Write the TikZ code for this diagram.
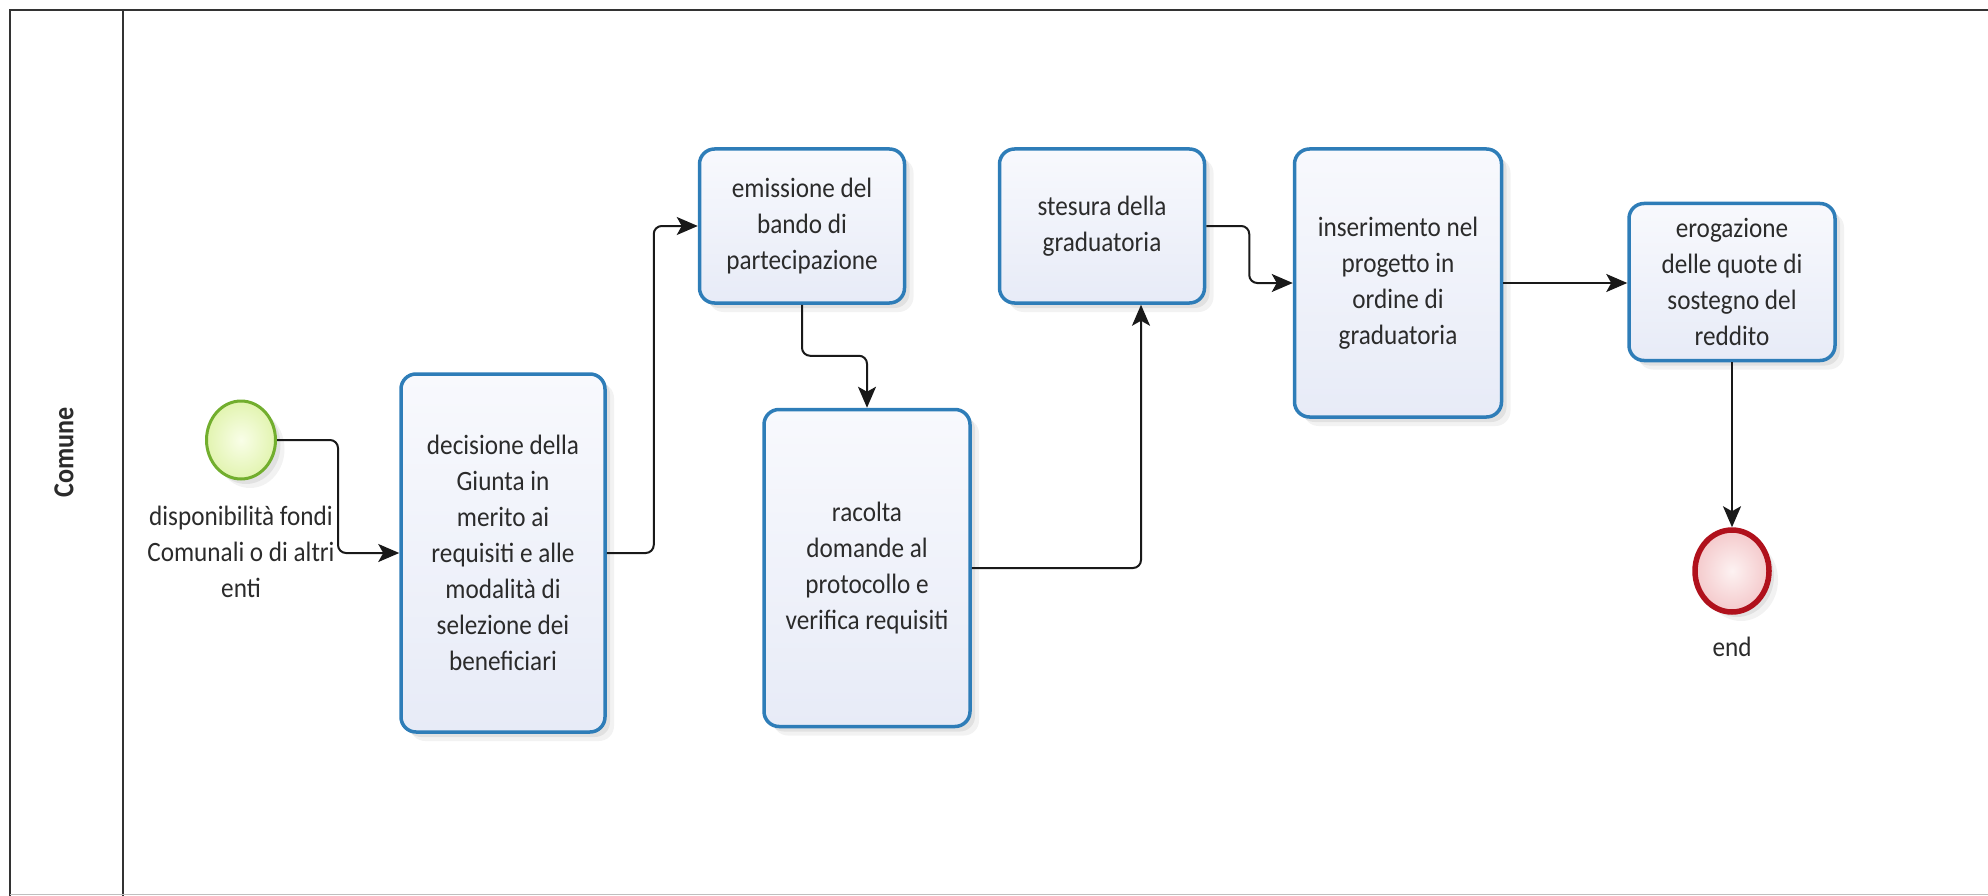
\documentclass[tikz,border=0pt]{standalone}
\usepackage{fontspec}
\setmainfont{Carlito}[FakeStretch=0.9]
\usetikzlibrary{shapes.geometric,arrows.meta,shadows}
\definecolor{boxborder}{HTML}{2E7DB8}
\definecolor{boxtop}{HTML}{F8F9FD}
\definecolor{boxbot}{HTML}{E7EBF7}
\definecolor{txt}{HTML}{2B2B2B}
\definecolor{startborder}{HTML}{72AE2E}
\definecolor{startin}{HTML}{F9FEE8}
\definecolor{startout}{HTML}{E2F4B0}
\definecolor{endborder}{HTML}{B0111C}
\definecolor{endin}{HTML}{FDF2F2}
\definecolor{endout}{HTML}{F4C9CB}
\definecolor{frame}{HTML}{333333}
\tikzset{
  softshadow/.style={
    drop shadow={shadow xshift=9pt,shadow yshift=-9pt,opacity=0.05,fill=black},
    drop shadow={shadow xshift=5pt,shadow yshift=-5pt,opacity=0.07,fill=black}},
  taskbox/.style={rectangle, rounded corners=15pt, draw=boxborder, line width=3.5pt,
    top color=boxtop, bottom color=boxbot, softshadow,
    align=center, text=txt, inner sep=4pt,
    font=\fontsize{28}{36}\selectfont},
  startev/.style={ellipse, draw=startborder, line width=3pt, inner color=startin,
    outer color=startout, minimum width=69pt, minimum height=78pt, inner sep=0pt, softshadow},
  endev/.style={ellipse, draw=endborder, line width=5.5pt, inner color=endin,
    outer color=endout, minimum width=74pt, minimum height=82pt, inner sep=0pt, softshadow},
  evlabel/.style={align=center, text=txt, font=\fontsize{28}{36}\selectfont},
  flow/.style={draw=black!90, line width=2pt, rounded corners=8pt,
    -{Stealth[length=21pt,width=18pt,inset=5pt]}},
  lanetitle/.style={rotate=90, text=txt, font=\bfseries\fontsize{29}{32}\selectfont},
  frameline/.style={draw=frame, line width=2.5pt}
}
\begin{document}
\begin{tikzpicture}[x=1pt,y=-1pt]
\useasboundingbox (0,0) rectangle (1988,896);
% pool frame
\draw[frameline] (10,896) -- (10,10) -- (1988,10);
\draw[frameline] (123,10) -- (123,896);
\draw[draw=black!25, line width=1.5pt] (10,894.5) -- (1988,894.5);
\node[lanetitle] (lane) at (64,452) {Comune};

% events
\node[startev] (s) at (241,440) {};
\node[evlabel, anchor=north] (sl) at (241,503) {disponibilità fondi\\Comunali o di altri\\enti};
\node[endev] (e) at (1732,571) {};
\node[evlabel, anchor=north] (el) at (1732,634) {end};

% tasks
\node[taskbox, minimum width=204pt, minimum height=358pt] (t1) at (503,553)
  {decisione della\\Giunta in\\merito ai\\requisiti e alle\\modalità di\\selezione dei\\beneficiari};
\node[taskbox, minimum width=205pt, minimum height=154pt] (t2) at (802,226)
  {emissione del\\bando di\\partecipazione};
\node[taskbox, minimum width=206pt, minimum height=317pt] (t3) at (867,568)
  {racolta\\domande al\\protocollo e\\verifica requisiti};
\node[taskbox, minimum width=205pt, minimum height=154pt] (t4) at (1102,226)
  {stesura della\\graduatoria};
\node[taskbox, minimum width=207pt, minimum height=268pt] (t5) at (1398,283)
  {inserimento nel\\progetto in\\ordine di\\graduatoria};
\node[taskbox, minimum width=206pt, minimum height=157pt] (t6) at (1732,282)
  {erogazione\\delle quote di\\sostegno del\\reddito};

% flows
\draw[flow] (s.east) -- ++(61,0) |- (t1.west);
\draw[flow] (t1.east) -- ++(47,0) |- (t2.west);
\draw[flow] (t2.south) -- ++(0,51) -| (t3.north);
\draw[flow] (t3.east) -| ([xshift=39pt]t4.south);
\draw[flow] (t4.east) -- ++(43,0) |- (t5.west);
\draw[flow] (t5.east) -- (t5.east -| t6.west);
\draw[flow] (t6.south) -- (e.north);
\end{tikzpicture}
\end{document}
